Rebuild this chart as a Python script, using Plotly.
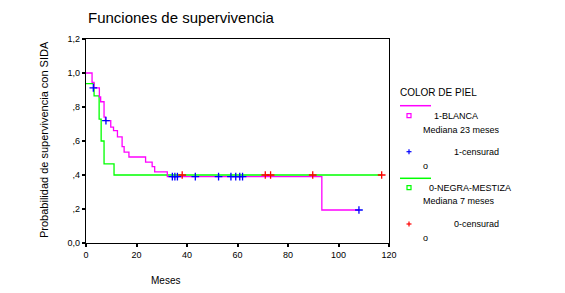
import plotly.graph_objects as go

# ---- data ----
blanca_t = [0, 2.4, 3.2, 5.3, 5.8, 7.15, 7.7, 9.8, 10.9, 12.45, 14.3, 15.1, 17.0, 23.6, 26.2, 27.2, 32.2, 93.4, 108.1]
blanca_s = [1.0, 0.945, 0.912, 0.859, 0.831, 0.741, 0.720, 0.682, 0.661, 0.624, 0.567, 0.535, 0.506, 0.476, 0.449, 0.418, 0.390, 0.194, 0.194]
blanca_cens_t = [2.9, 7.9, 34.2, 35.2, 36.2, 43.3, 52.5, 57.4, 59.3, 60.9, 62.0, 108.1]
blanca_cens_s = [0.912, 0.720, 0.390, 0.390, 0.390, 0.390, 0.390, 0.390, 0.390, 0.390, 0.390, 0.194]

negra_t = [0, 3.2, 5.2, 6.0, 7.15, 11.1, 117.1]
negra_s = [0.9375, 0.865, 0.729, 0.600, 0.465, 0.400, 0.400]
negra_cens_t = [38.1, 71.0, 73.1, 89.8, 117.1]
negra_cens_s = [0.400, 0.400, 0.400, 0.400, 0.400]

y_ticks = [0, 0.2, 0.4, 0.6, 0.8, 1.0, 1.2]
y_ticktext = ["0,0", ",2", ",4", ",6", ",8", "1,0", "1,2"]
x_ticks = [0, 20, 40, 60, 80, 100, 120]

MAG = "#FF00FF"
GRN = "#00FF00"
BLU = "#0000FF"
RED = "#FF0000"
FONT = "Liberation Sans, Arial, sans-serif"

W, H = 565, 293
L, R, T, B = 86, 389, 39, 243

def px(x):
    return (x - L) / (R - L)

def py(y):
    return (B - y) / (B - T)

fig = go.Figure()
fig.add_trace(go.Scatter(x=negra_t, y=negra_s, mode="lines", line=dict(color=GRN, width=1.3, shape="hv"),
                         hoverinfo="skip"))
fig.add_trace(go.Scatter(x=blanca_t, y=blanca_s, mode="lines", line=dict(color=MAG, width=1.3, shape="hv"),
                         hoverinfo="skip"))
fig.add_trace(go.Scatter(x=blanca_cens_t, y=blanca_cens_s, mode="markers",
                         marker=dict(symbol="cross-thin", size=5.5, line=dict(color=BLU, width=1.3))))
fig.add_trace(go.Scatter(x=negra_cens_t, y=negra_cens_s, mode="markers",
                         marker=dict(symbol="cross-thin", size=5.5, line=dict(color=RED, width=1.3))))

shapes = []
annots = []

def txt(x, y, s, size=10, color="black"):
    annots.append(dict(x=px(x), y=py(y), xref="paper", yref="paper", text=s, showarrow=False,
                       xanchor="left", yanchor="middle", font=dict(size=size, color=color, family=FONT)))

def hline(x0, x1, y, color, w=1.5):
    shapes.append(dict(type="line", xref="paper", yref="paper", x0=px(x0), x1=px(x1), y0=py(y), y1=py(y),
                       line=dict(color=color, width=w)))

def plus(x, y, color):
    shapes.append(dict(type="line", xref="paper", yref="paper", x0=px(x - 2.5), x1=px(x + 2.5), y0=py(y), y1=py(y),
                       line=dict(color=color, width=1.2)))
    shapes.append(dict(type="line", xref="paper", yref="paper", x0=px(x), x1=px(x), y0=py(y - 2.5), y1=py(y + 2.5),
                       line=dict(color=color, width=1.2)))

def square(x, y, color):
    shapes.append(dict(type="rect", xref="paper", yref="paper", x0=px(x - 2), x1=px(x + 2), y0=py(y + 2), y1=py(y - 2),
                       line=dict(color=color, width=1.2)))

txt(398, 93, "COLOR DE PIEL")
hline(400, 431, 105.7, MAG)
square(409, 115.7, MAG)
txt(432, 115.7, "1-BLANCA", size=9)
txt(421, 130, "Mediana 23 meses", size=9)
plus(409, 151.7, BLU)
txt(452, 151.7, "1-censurad", size=9)
txt(421, 166, "o", size=9)
hline(400, 431, 178.3, GRN)
square(409, 187.7, GRN)
txt(427, 187.7, "0-NEGRA-MESTIZA", size=9)
txt(421, 201.3, "Mediana 7 meses", size=9)
plus(409, 224, RED)
txt(452, 224, "0-censurad", size=9)
txt(421, 238.3, "o", size=9)

# title
annots.append(dict(x=px(86), y=py(18), xref="paper", yref="paper", text="Funciones de supervivencia",
                   showarrow=False, xanchor="left", yanchor="middle", font=dict(size=15, family=FONT, color="black")))
# x title
annots.append(dict(x=px(165.5), y=py(280), xref="paper", yref="paper", text="Meses",
                   showarrow=False, xanchor="center", yanchor="middle", font=dict(size=10, family=FONT, color="black")))
# y title
annots.append(dict(x=px(44), y=py(139), xref="paper", yref="paper", text="Probabilidad de supervivencia con SIDA",
                   showarrow=False, xanchor="center", yanchor="middle", textangle=-90,
                   font=dict(size=11, family=FONT, color="black")))

fig.update_layout(
    width=W, height=H,
    margin=dict(l=L, r=W - R, t=T, b=H - B),
    paper_bgcolor="white", plot_bgcolor="white",
    showlegend=False,
    shapes=shapes, annotations=annots,
    font=dict(family=FONT, color="black"),
)
fig.update_xaxes(range=[0, 120], tickvals=x_ticks, ticks="outside", ticklen=3, tickwidth=2, tickcolor="black",
                 showline=True, linecolor="black", linewidth=1.2, mirror=True, showgrid=False, zeroline=False,
                 tickfont=dict(size=9, family=FONT, color="black"))
fig.update_yaxes(range=[0, 1.2], tickvals=y_ticks, ticktext=y_ticktext, ticks="outside", ticklen=3, tickwidth=2,
                 tickcolor="black", showline=True, linecolor="black", linewidth=1.2, mirror=True, showgrid=False,
                 zeroline=False, tickfont=dict(size=9, family=FONT, color="black"))

fig.write_html("out.html")
